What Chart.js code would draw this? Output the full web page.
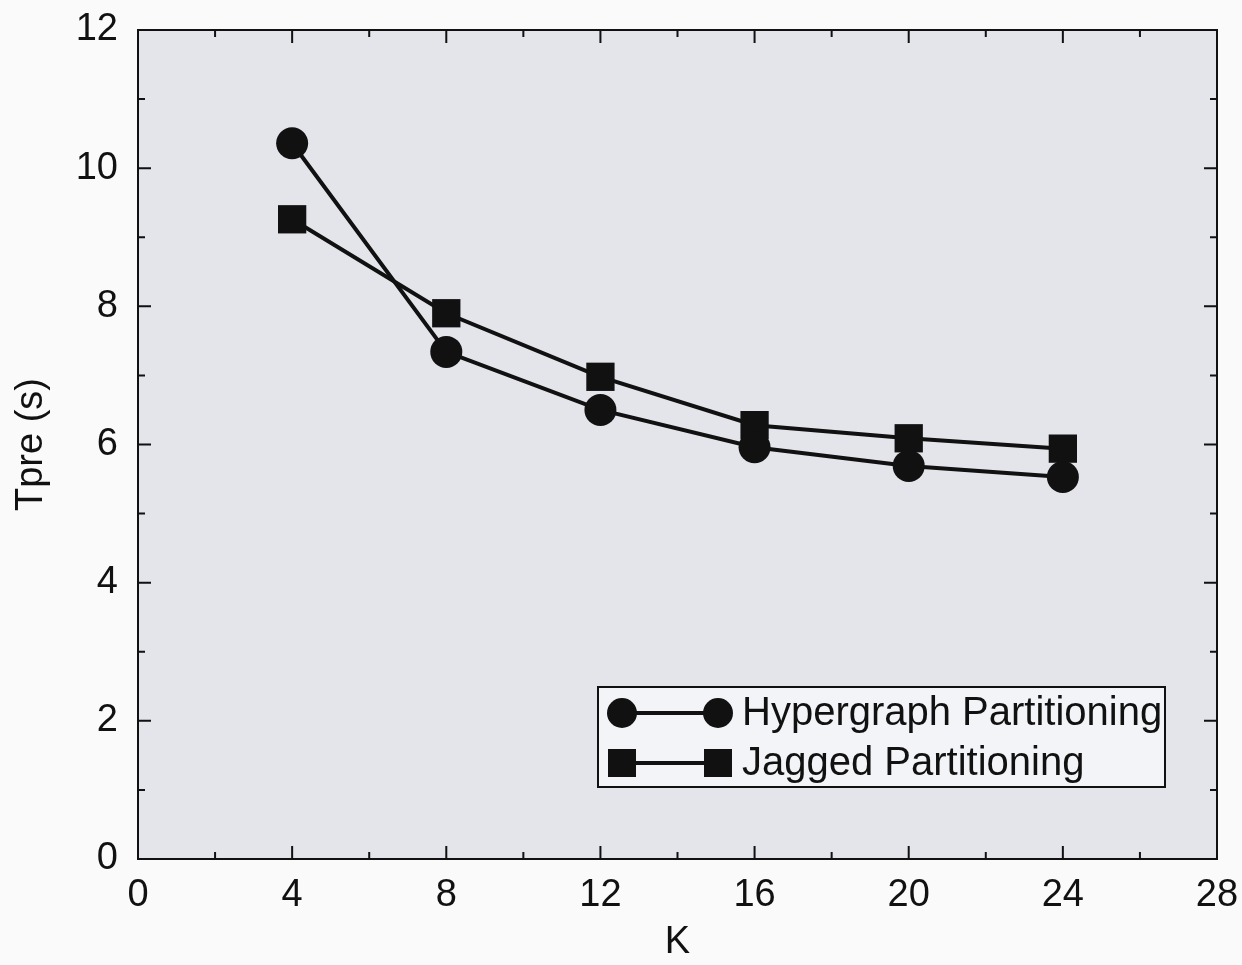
<!DOCTYPE html>
<html>
<head>
<meta charset="utf-8">
<script src="https://cdn.jsdelivr.net/npm/chart.js@4.4.1/dist/chart.umd.min.js"></script>
<style>
  html, body { margin: 0; padding: 0; background: #fafafa; }
  #wrap { width: 1242px; height: 965px; position: relative; }
</style>
</head>
<body>
<div id="wrap"><canvas id="c" width="1242" height="965"></canvas></div>
<script>
// ---- data ----
const kValues = [4, 8, 12, 16, 20, 24];
const hypergraph = [10.36, 7.34, 6.50, 5.96, 5.69, 5.53];
const jagged = [9.26, 7.90, 6.98, 6.28, 6.09, 5.94];
const seriesNames = ['Hypergraph Partitioning', 'Jagged Partitioning'];
const xTickValues = [0, 4, 8, 12, 16, 20, 24, 28];
const xMinorValues = [2, 6, 10, 14, 18, 22, 26];
const yTickValues = [0, 2, 4, 6, 8, 10, 12];
const yMinorValues = [1, 3, 5, 7, 9, 11];
const xTitle = 'K';
const yTitle = 'Tpre (s)';

const FONT = "'Liberation Sans', Arial, Helvetica, sans-serif";

const bgPlugin = {
  id: 'bg',
  beforeDraw(chart) {
    const ctx = chart.ctx, a = chart.chartArea;
    ctx.save();
    ctx.fillStyle = '#fafafa';
    ctx.fillRect(0, 0, chart.width, chart.height);
    ctx.fillStyle = '#e3e5eb';
    ctx.fillRect(a.left, a.top, a.right - a.left, a.bottom - a.top);
    ctx.restore();
  }
};

const framePlugin = {
  id: 'frame',
  afterDatasetsDraw(chart) {
    const ctx = chart.ctx, a = chart.chartArea;
    const xs = chart.scales.x, ys = chart.scales.y;
    ctx.save();
    ctx.strokeStyle = '#111';
    ctx.lineWidth = 2;
    ctx.strokeRect(a.left, a.top, a.right - a.left, a.bottom - a.top);
    ctx.beginPath();
    const tick = (vals, len) => {
      vals.forEach(v => {
        const px = xs.getPixelForValue(v);
        ctx.moveTo(px, a.bottom); ctx.lineTo(px, a.bottom - len);
        ctx.moveTo(px, a.top); ctx.lineTo(px, a.top + len);
      });
    };
    const tickY = (vals, len) => {
      vals.forEach(v => {
        const py = ys.getPixelForValue(v);
        ctx.moveTo(a.left, py); ctx.lineTo(a.left + len, py);
        ctx.moveTo(a.right, py); ctx.lineTo(a.right - len, py);
      });
    };
    tick(xTickValues, 13); tick(xMinorValues, 7);
    tickY(yTickValues, 13); tickY(yMinorValues, 7);
    ctx.stroke();
    ctx.restore();
  }
};

const legendPlugin = {
  id: 'customLegend',
  afterDraw(chart) {
    const ctx = chart.ctx, a = chart.chartArea;
    const right = a.right - 52, bottom = a.bottom - 72;
    const w = 567, h = 100;
    const left = right - w, top = bottom - h;
    ctx.save();
    ctx.fillStyle = '#f3f4f7';
    ctx.fillRect(left, top, w, h);
    ctx.strokeStyle = '#111';
    ctx.lineWidth = 2;
    ctx.strokeRect(left, top, w, h);
    const rows = [top + 26, top + 76];
    chart.data.datasets.forEach((ds, i) => {
      const y = rows[i];
      const x1 = left + 24, x2 = left + 120;
      ctx.strokeStyle = '#111';
      ctx.lineWidth = 4;
      ctx.beginPath(); ctx.moveTo(x1, y); ctx.lineTo(x2, y); ctx.stroke();
      ctx.fillStyle = '#111';
      [x1, x2].forEach(x => {
        if (ds.pointStyle === 'circle') {
          ctx.beginPath(); ctx.arc(x, y, 15, 0, Math.PI * 2); ctx.fill();
        } else {
          ctx.fillRect(x - 14, y - 14, 28, 28);
        }
      });
      ctx.fillStyle = '#111';
      ctx.font = '40px ' + FONT;
      ctx.textBaseline = 'middle';
      ctx.textAlign = 'left';
      ctx.fillText(ds.label, left + 144, y + 1);
    });
    ctx.restore();
  }
};

new Chart(document.getElementById('c'), {
  type: 'line',
  data: {
    datasets: [
      {
        label: seriesNames[0],
        data: kValues.map((k, i) => ({ x: k, y: hypergraph[i] })),
        borderColor: '#111', backgroundColor: '#111',
        borderWidth: 4, pointStyle: 'circle', pointRadius: 16,
        pointBorderWidth: 0, pointBackgroundColor: '#111', tension: 0
      },
      {
        label: seriesNames[1],
        data: kValues.map((k, i) => ({ x: k, y: jagged[i] })),
        borderColor: '#111', backgroundColor: '#111',
        borderWidth: 4, pointStyle: 'rect', pointRadius: 20,
        pointBorderWidth: 0, pointBackgroundColor: '#111', tension: 0
      }
    ]
  },
  options: {
    responsive: false,
    animation: false,
    events: [],
    layout: { padding: { top: 30, right: 25, left: 0, bottom: 0 } },
    plugins: { legend: { display: false }, tooltip: { enabled: false } },
    scales: {
      x: {
        type: 'linear', min: 0, max: 28,
        afterBuildTicks: s => { s.ticks = xTickValues.map(v => ({ value: v })); },
        afterFit: s => { s.height = 106; },
        grid: { display: true, drawOnChartArea: false, drawTicks: true, tickLength: 14, color: 'rgba(0,0,0,0)' },
        border: { display: false },
        ticks: { color: '#111', font: { family: FONT, size: 38 }, padding: 0, maxRotation: 0, autoSkip: false },
        title: { display: true, text: xTitle, color: '#111', font: { family: FONT, size: 38 }, padding: { top: 0, bottom: 0 } }
      },
      y: {
        type: 'linear', min: 0, max: 12,
        afterBuildTicks: s => { s.ticks = yTickValues.map(v => ({ value: v })); },
        afterFit: s => { s.width = 138; },
        grid: { display: true, drawOnChartArea: false, drawTicks: true, tickLength: 20, color: 'rgba(0,0,0,0)' },
        border: { display: false },
        ticks: { color: '#111', font: { family: FONT, size: 38 }, padding: 0, autoSkip: false },
        title: { display: true, text: yTitle, color: '#111', font: { family: FONT, size: 38 }, padding: { top: 9, bottom: 0 } }
      }
    }
  },
  plugins: [bgPlugin, framePlugin, legendPlugin]
});
</script>
</body>
</html>
